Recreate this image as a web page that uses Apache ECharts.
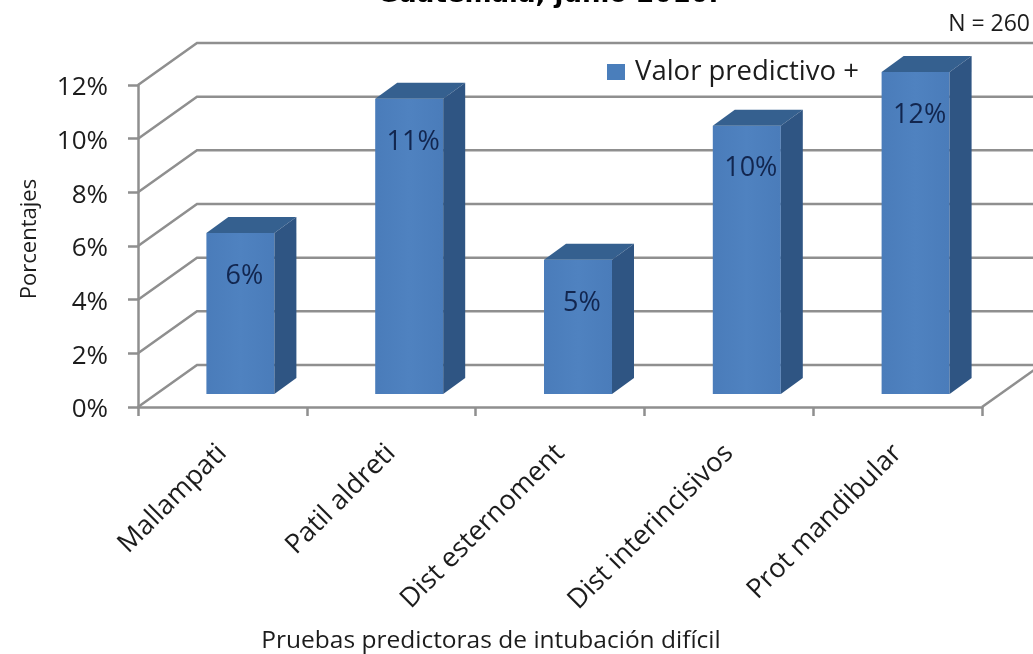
<!DOCTYPE html>
<html><head><meta charset="utf-8">
<style>html,body{margin:0;padding:0;background:#fff}#c{width:1033px;height:654px}</style>
<script src="https://cdn.jsdelivr.net/npm/echarts@6/dist/echarts.min.js"></script>
</head><body><div id="c"></div>
<script>
const categories = ['Mallampati','Patil aldreti','Dist esternoment','Dist interincisivos','Prot mandibular'];
const values = [6,11,5,10,12];
const wallTicks = [0,2,4,6,8,10,12];
const seriesName = 'Valor predictivo +';
const titleText = 'Guatemala, junio 2010.';
const noteText = 'N = 260';
const yAxisName = 'Porcentajes';
const xAxisName = 'Pruebas predictoras de intubación difícil';

const FONT = '"Open Sans", sans-serif';
const GRID = {left:138,right:51,top:85,bottom:247,outerBoundsMode:'none'};
const WALL = [59,-42];
const BAR_SHIFT = [18,-13];
const BAR_W = 68;
const DEPTH = [22,-16];
const LINE = '#8f8f8f';
const INK = '#1c1c1c';

const chart = echarts.init(document.getElementById('c'),null,{renderer:'canvas'});
chart.setOption({
  backgroundColor:'#fff',
  animation:false,
  title:{text:titleText,left:372,top:-23,textStyle:{fontFamily:'"DejaVu Sans",sans-serif',fontSize:26,fontWeight:'bold',color:'#000'}},
  legend:{data:[{name:seriesName,icon:'rect'}],left:602,top:53,itemWidth:18,itemHeight:16,itemGap:10,
    textStyle:{fontFamily:FONT,fontSize:27.5,color:INK,padding:[0,0,0,5]}},
  graphic:[
    {type:'text',right:3,top:13,style:{text:noteText,font:'23px '+FONT,fill:INK}}
  ],
  grid:GRID,
  xAxis:{type:'category',data:categories,
    axisLine:{lineStyle:{color:LINE,width:2.5}},
    axisTick:{show:true,length:9,alignWithLabel:false,lineStyle:{color:LINE,width:2.5}},
    axisLabel:{rotate:45,interval:0,fontFamily:FONT,fontSize:27,color:INK,margin:42},
    name:xAxisName,nameLocation:'middle',nameGap:222,
    nameTextStyle:{fontFamily:FONT,fontSize:24.5,color:INK,padding:[0,138,0,0]}},
  yAxis:{type:'value',min:0,max:12,interval:2,
    axisLine:{show:true,lineStyle:{color:LINE,width:2.5}},
    axisTick:{show:true,length:10,lineStyle:{color:LINE,width:2.5}},
    splitLine:{show:false},
    axisLabel:{formatter:'{value}%',fontFamily:FONT,fontSize:26,color:INK,margin:30,verticalAlign:'top',lineHeight:6},
    name:yAxisName,nameLocation:'middle',nameGap:97,
    nameTextStyle:{fontFamily:FONT,fontSize:22,color:INK,padding:[0,0,0,14]}},
  series:[
    {type:'custom',name:'wall',silent:true,z:1,clip:false,
     coordinateSystem:'cartesian2d',
     data:wallTicks.map(v=>[0,v]),
     encode:{x:0,y:1},
     renderItem(params,api){
       const v=api.value(1);
       const band=api.size([1,0])[0];
       const a=api.coord([0,v]);
       const x0=a[0]-band/2;
       const xEnd=x0+band*categories.length;
       const p0=[x0,a[1]];
       const p1=[x0+WALL[0],a[1]+WALL[1]];
       const p2=[xEnd+WALL[0],a[1]+WALL[1]];
       const children=[{type:'polyline',shape:{points:[p0,p1,p2]},style:{stroke:LINE,lineWidth:2.5,fill:null}}];
       if(v===0){
         children.push({type:'line',shape:{x1:xEnd,y1:a[1],x2:p2[0],y2:p2[1]},style:{stroke:LINE,lineWidth:2.5}});
       }
       return {type:'group',children};
     }},
    {type:'custom',name:seriesName,z:3,clip:false,
     coordinateSystem:'cartesian2d',
     itemStyle:{color:'#4a7ebb'},
     data:values.map((v,i)=>[i,v]),
     encode:{x:0,y:1},
     renderItem(params,api){
       const i=api.value(0),v=api.value(1);
       const top=api.coord([i,v]),base=api.coord([i,0]);
       const xl=top[0]-BAR_W/2+BAR_SHIFT[0],xr=xl+BAR_W;
       const yt=top[1]+BAR_SHIFT[1],yb=base[1]+BAR_SHIFT[1];
       return {type:'group',children:[
         {type:'rect',shape:{x:xl,y:yt,width:BAR_W,height:yb-yt},
          style:{fill:new echarts.graphic.LinearGradient(0,0,1,0,[{offset:0,color:'#4a7cba'},{offset:.5,color:'#4f82c0'},{offset:1,color:'#4a7cba'}])}},
         {type:'polygon',shape:{points:[[xl,yt],[xr,yt],[xr+DEPTH[0],yt+DEPTH[1]],[xl+DEPTH[0],yt+DEPTH[1]]]},style:{fill:'#35608f'}},
         {type:'polygon',shape:{points:[[xr,yt],[xr+DEPTH[0],yt+DEPTH[1]],[xr+DEPTH[0],yb+DEPTH[1]],[xr,yb]]},style:{fill:'#2f5583'}},
         {type:'text',style:{x:(xl+xr)/2+4,y:yt+43,text:v+'%',align:'center',verticalAlign:'middle',font:'27px '+FONT,fill:'#12264f'}}
       ]};
     }}
  ]
});
</script></body></html>
